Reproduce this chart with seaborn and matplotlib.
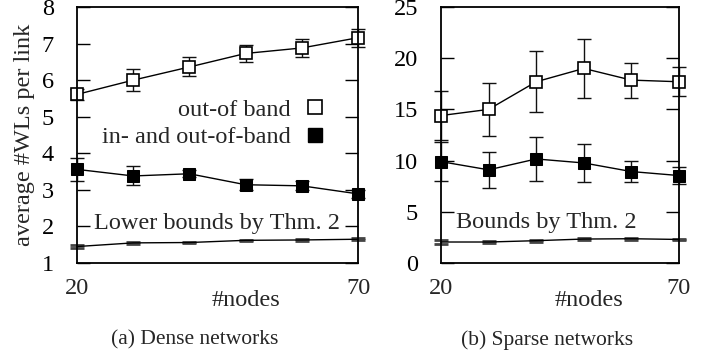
import matplotlib
matplotlib.use("Agg")
import matplotlib.pyplot as plt
import seaborn as sns
import pandas as pd
from matplotlib.lines import Line2D

nodes = [20, 30, 40, 50, 60, 70]

dense_out = [5.61, 6.00, 6.36, 6.73, 6.88, 7.16]
dense_out_err = [0.16, 0.30, 0.26, 0.24, 0.25, 0.25]
dense_inout = [3.56, 3.38, 3.44, 3.14, 3.11, 2.89]
dense_inout_err = [0.32, 0.26, 0.10, 0.15, 0.12, 0.10]
dense_lb = [1.45, 1.55, 1.56, 1.62, 1.63, 1.65]
dense_lb_err = [0.05, 0.02, 0.02, 0.02, 0.02, 0.03]

sparse_out = [14.4, 15.0, 17.7, 19.0, 17.86, 17.7]
sparse_out_err = [2.4, 2.56, 3.0, 2.87, 1.72, 1.4]
sparse_inout = [9.9, 9.1, 10.16, 9.77, 8.93, 8.54]
sparse_inout_err = [1.87, 1.77, 2.17, 1.82, 0.99, 0.81]
sparse_lb = [2.05, 2.05, 2.18, 2.34, 2.37, 2.3]
sparse_lb_err = [0.16, 0.1, 0.1, 0.1, 0.1, 0.05]

label_out = "out-of band"
label_inout = "in- and out-of-band"
xlabel = "#nodes"
ylabel = "average #WLs per link"
caption_a = "(a) Dense networks"
caption_b = "(b) Sparse networks"
note_a = "Lower bounds by Thm. 2"
note_b = "Bounds by Thm. 2"

sns.set_theme(style="white")
plt.rcParams['font.family'] = ['Liberation Serif', 'DejaVu Serif']
FS = 17.5
MS = 8.8

fig = plt.figure(figsize=(7.22, 3.58), dpi=100)
W, H = 722, 358


def ax_at(l, t, r, b):
    return fig.add_axes([l / W, 1 - b / H, (r - l) / W, (b - t) / H])


axA = ax_at(77, 7, 358, 263)
axB = ax_at(441, 7, 679, 263)


def draw(ax, out, oerr, inout, ierr, lb, lerr):
    df = pd.DataFrame({"n": nodes, "out": out, "inout": inout, "lb": lb})
    ebkw = dict(fmt="none", ecolor="#111111", elinewidth=1.0, capsize=5.2, capthick=1.0, zorder=2)
    ax.errorbar(nodes, out, yerr=oerr, **ebkw)
    ax.errorbar(nodes, inout, yerr=ierr, **ebkw)
    ax.errorbar(nodes, lb, yerr=lerr, fmt="none", ecolor="#444444", elinewidth=1.0,
                capsize=5.2, capthick=2.0, zorder=2)
    sns.lineplot(data=df, x="n", y="out", ax=ax, color="black", lw=1.0, marker="s",
                 markersize=MS, markerfacecolor="white", markeredgecolor="black",
                 markeredgewidth=1.2, zorder=3)
    sns.lineplot(data=df, x="n", y="inout", ax=ax, color="black", lw=1.0, marker="s",
                 markersize=MS, markerfacecolor="black", markeredgecolor="black",
                 zorder=3)
    sns.lineplot(data=df, x="n", y="lb", ax=ax, color="black", lw=1.0, zorder=3)
    for ln in ax.lines:
        ln.set_clip_on(False)
    for c in ax.collections:
        c.set_clip_on(False)
    ax.set_xlim(20, 70)
    ax.set_xticks([20, 70])
    ax.set_xticklabels(["20", "70"])
    ax.tick_params(axis="x", length=0, pad=11, labelsize=FS)
    ax.tick_params(axis="y", direction="in", length=9.5, width=1.0, left=True, right=True,
                   pad=16.5, labelsize=FS, colors="black")
    for s in ax.spines.values():
        s.set_color("black")
        s.set_linewidth(1.3)
        s.set_zorder(5)
    ax.set_ylabel("")
    ax.set_xlabel(xlabel, fontsize=FS)
    ax.grid(False)


draw(axA, dense_out, dense_out_err, dense_inout, dense_inout_err, dense_lb, dense_lb_err)
draw(axB, sparse_out, sparse_out_err, sparse_inout, sparse_inout_err, sparse_lb, sparse_lb_err)

axA.set_ylim(1, 8)
axA.set_yticks(range(1, 9))
axB.set_ylim(0, 25)
axB.set_yticks(range(0, 26, 5))

axA.xaxis.set_label_coords(0.60, -0.105)
axB.xaxis.set_label_coords(0.62, -0.105)
axA.xaxis.label.set_va("top")
axB.xaxis.label.set_va("top")

fig.text(25 / W, 1 - 135 / H, ylabel, rotation=90, ha="center", va="center", fontsize=FS)

axA.text(0.5, 0.156, note_a, transform=axA.transAxes, ha="center", va="center", fontsize=FS,
         bbox=dict(facecolor="white", edgecolor="none", pad=0))
axB.text(0.443, 0.16, note_b, transform=axB.transAxes, ha="center", va="center", fontsize=FS,
         bbox=dict(facecolor="white", edgecolor="none", pad=0))

handles = [
    Line2D([], [], ls="none", marker="s", markersize=9.5, markerfacecolor="white",
           markeredgecolor="black", markeredgewidth=1.2),
    Line2D([], [], ls="none", marker="s", markersize=9.5, markerfacecolor="black",
           markeredgecolor="black"),
]
axA.legend(handles, [label_out, label_inout], loc="center right", markerfirst=False,
           frameon=False, fontsize=FS, handlelength=1.0, handletextpad=0.5,
           labelspacing=0.22, borderpad=0, borderaxespad=0,
           bbox_to_anchor=((327 - 77) / 281, (263 - 123.5) / 256))

fig.text(195 / W, 1 - 340 / H, caption_a, ha="center", va="center", fontsize=15.5)
fig.text(547 / W, 1 - 340 / H, caption_b, ha="center", va="center", fontsize=15.5)

fig.savefig("out.png", dpi=100)
